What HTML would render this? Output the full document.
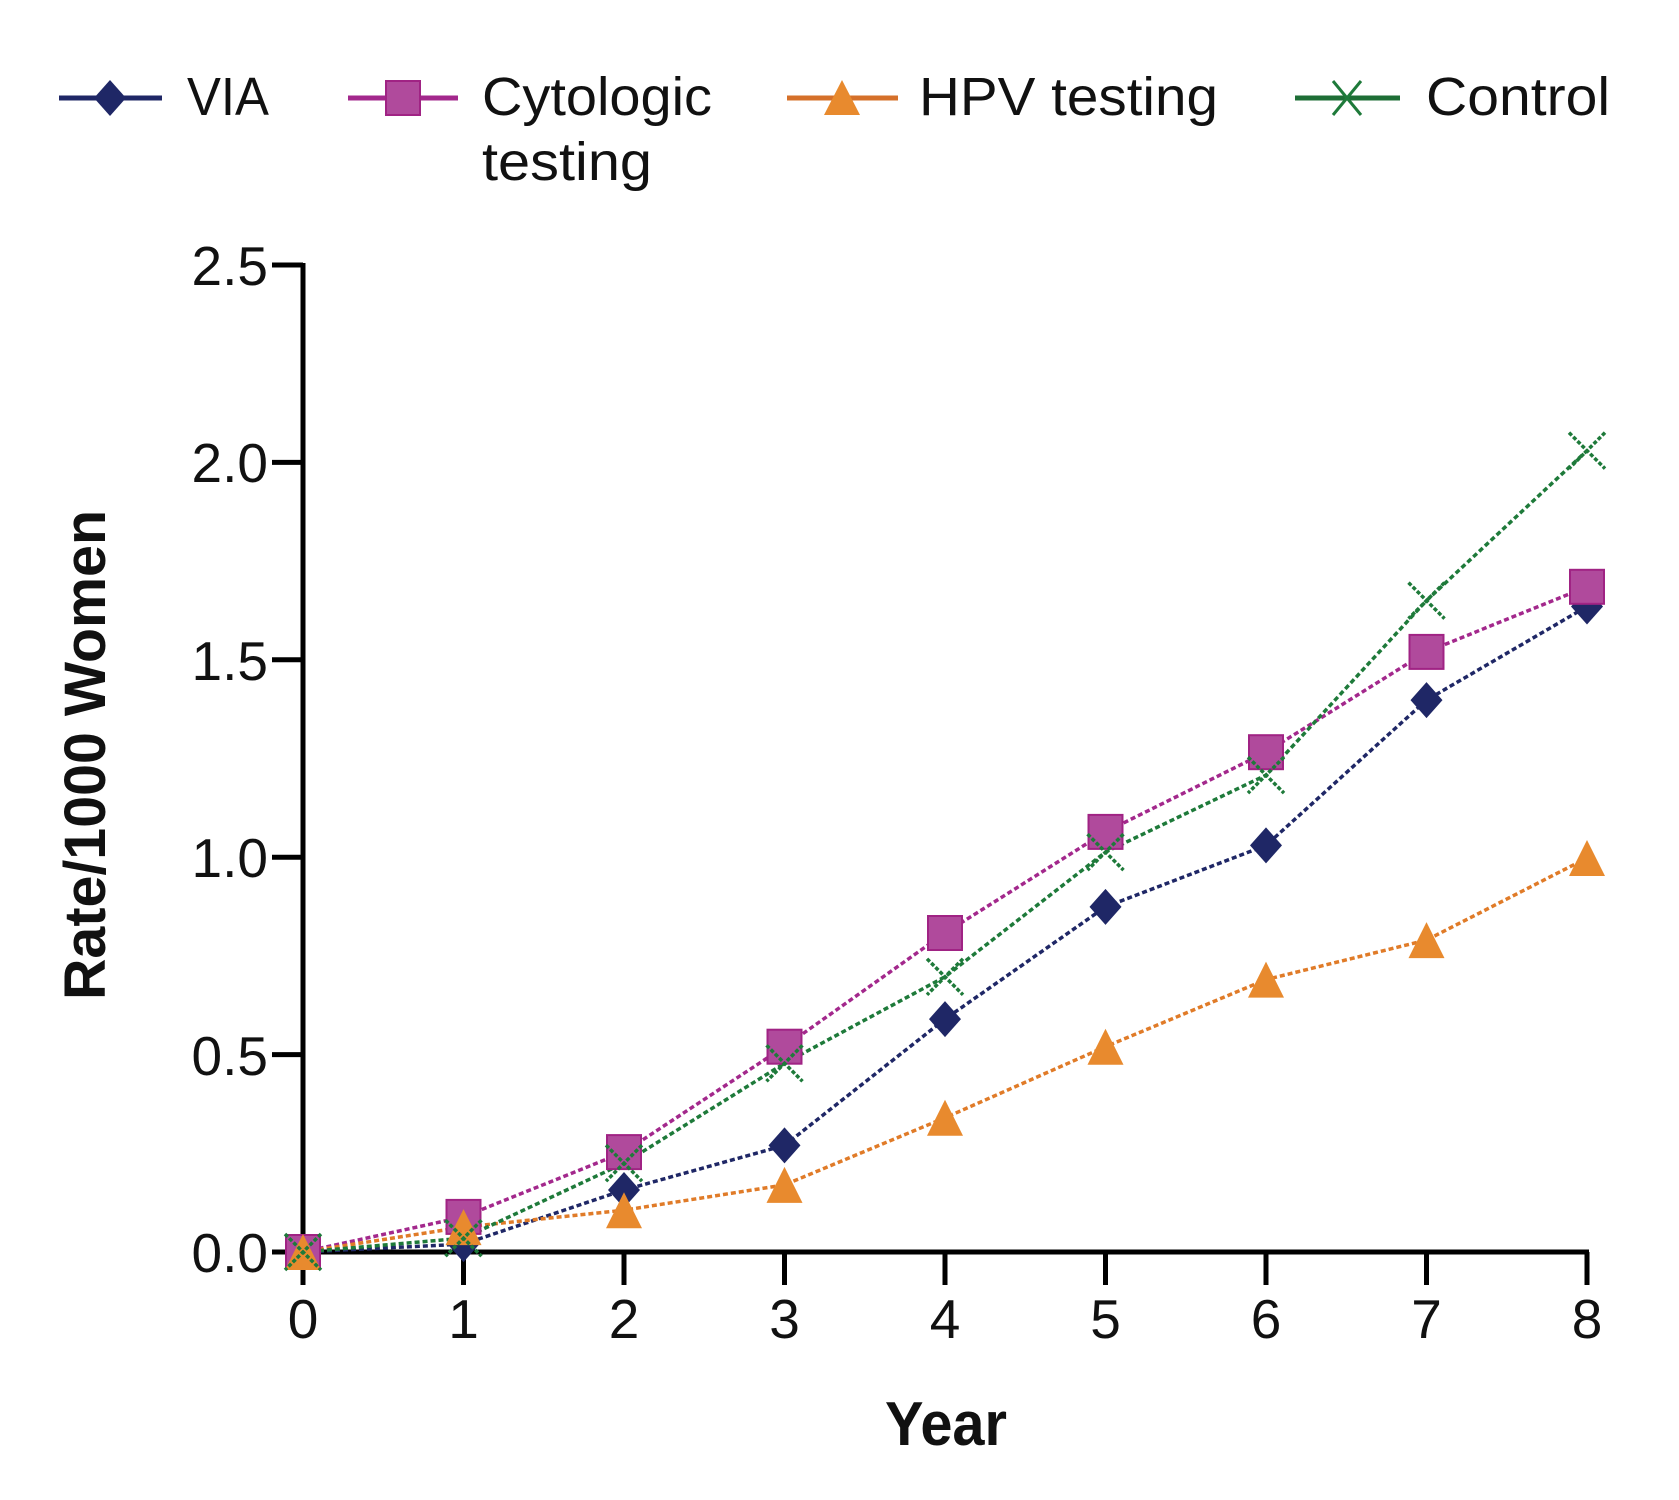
<!DOCTYPE html>
<html>
<head>
<meta charset="utf-8">
<style>
  html, body { margin:0; padding:0; background:#ffffff; }
  body { width:1679px; height:1500px; overflow:hidden; }
  svg { display:block; }
  text { font-family: "Liberation Sans", sans-serif; fill:#111; }
</style>
</head>
<body>
<svg width="1679" height="1500" viewBox="0 0 1679 1500" xmlns="http://www.w3.org/2000/svg">
  <rect width="1679" height="1500" fill="#ffffff"/>

  <!-- Legend -->
  <g>
    <line x1="59" y1="98" x2="162" y2="98" stroke="#1f2766" stroke-width="5"/>
    <polygon points="110,80 126,98 110,116 94,98" fill="#1f2766"/>
    <text x="187" y="115" font-size="54" textLength="82" lengthAdjust="spacingAndGlyphs">VIA</text>

    <line x1="348" y1="98" x2="458" y2="98" stroke="#a3288c" stroke-width="5"/>
    <rect x="386" y="81" width="34" height="34" fill="#b04a9c" stroke="#a02384" stroke-width="2"/>
    <text x="482" y="115" font-size="54" textLength="230" lengthAdjust="spacingAndGlyphs">Cytologic</text>
    <text x="482" y="180" font-size="54" textLength="170" lengthAdjust="spacingAndGlyphs">testing</text>

    <line x1="787" y1="98" x2="898" y2="98" stroke="#d5702a" stroke-width="5"/>
    <polygon points="842,80 860,115 824,115" fill="#e88a2e"/>
    <text x="919" y="115" font-size="54" textLength="299" lengthAdjust="spacingAndGlyphs">HPV testing</text>

    <line x1="1295" y1="98" x2="1400" y2="98" stroke="#1e6e36" stroke-width="5"/>
    <g stroke="#1e7a3a" stroke-width="3">
      <line x1="1333" y1="81" x2="1361" y2="115"/>
      <line x1="1361" y1="81" x2="1333" y2="115"/>
    </g>
    <text x="1426" y="115" font-size="54" textLength="184" lengthAdjust="spacingAndGlyphs">Control</text>
  </g>

  <!-- Axes -->
  <g stroke="#000" stroke-width="5" fill="none">
    <line x1="303" y1="263" x2="303" y2="1254"/>
    <line x1="301" y1="1252" x2="1589" y2="1252"/>
    <!-- y ticks -->
    <line x1="272" y1="265" x2="303" y2="265"/>
    <line x1="272" y1="462.4" x2="303" y2="462.4"/>
    <line x1="272" y1="659.8" x2="303" y2="659.8"/>
    <line x1="272" y1="857.2" x2="303" y2="857.2"/>
    <line x1="272" y1="1054.6" x2="303" y2="1054.6"/>
    <line x1="272" y1="1252" x2="303" y2="1252"/>
    <!-- x ticks -->
    <line x1="303" y1="1252" x2="303" y2="1285"/>
    <line x1="463.5" y1="1252" x2="463.5" y2="1285"/>
    <line x1="624" y1="1252" x2="624" y2="1285"/>
    <line x1="784.5" y1="1252" x2="784.5" y2="1285"/>
    <line x1="945" y1="1252" x2="945" y2="1285"/>
    <line x1="1105.5" y1="1252" x2="1105.5" y2="1285"/>
    <line x1="1266" y1="1252" x2="1266" y2="1285"/>
    <line x1="1426.5" y1="1252" x2="1426.5" y2="1285"/>
    <line x1="1587" y1="1252" x2="1587" y2="1285"/>
  </g>

  <!-- Y tick labels -->
  <g font-size="55" text-anchor="end">
    <text x="268" y="285">2.5</text>
    <text x="268" y="482">2.0</text>
    <text x="268" y="680">1.5</text>
    <text x="268" y="877">1.0</text>
    <text x="268" y="1075">0.5</text>
    <text x="268" y="1272">0.0</text>
  </g>

  <!-- X tick labels -->
  <g font-size="55" text-anchor="middle">
    <text x="303" y="1338">0</text>
    <text x="463.5" y="1338">1</text>
    <text x="624" y="1338">2</text>
    <text x="784.5" y="1338">3</text>
    <text x="945" y="1338">4</text>
    <text x="1105.5" y="1338">5</text>
    <text x="1266" y="1338">6</text>
    <text x="1426.5" y="1338">7</text>
    <text x="1587" y="1338">8</text>
  </g>

  <!-- Axis titles -->
  <text x="885" y="1445" font-size="62" font-weight="bold" textLength="122" lengthAdjust="spacingAndGlyphs">Year</text>
  <text transform="translate(105,1000) rotate(-90)" x="0" y="0" font-size="58" font-weight="bold" textLength="490" lengthAdjust="spacingAndGlyphs">Rate/1000 Women</text>

  <!-- Series lines -->
  <g fill="none" stroke-width="3.5" stroke-dasharray="5 3">
    <polyline stroke="#1f2766" points="303,1252 463.5,1244.1 624,1190 784.5,1145.4 945,1019.1 1105.5,906.9 1266,845.4 1426.5,700.1 1587,606.5"/>
    <polyline stroke="#a3288c" points="303,1252 463.5,1216.9 624,1152.1 784.5,1046.7 945,933 1105.5,831.9 1266,752.2 1426.5,651.9 1587,586.8"/>
    <polyline stroke="#e07b28" points="303,1252 463.5,1227.1 624,1210.2 784.5,1184.9 945,1117.8 1105.5,1046.7 1266,979.6 1426.5,940.1 1587,858"/>
    <polyline stroke="#1e7a3a" points="303,1252 463.5,1238.2 624,1163.2 784.5,1063.3 945,976.8 1105.5,852.1 1266,775.1 1426.5,600.6 1587,450.6"/>
  </g>

  <!-- VIA diamonds -->
  <g fill="#1f2766">
    <polygon points="303,1234 319,1252 303,1270 287,1252"/>
    <polygon points="463.5,1226.1 479.5,1244.1 463.5,1262.1 447.5,1244.1"/>
    <polygon points="624,1172 640,1190 624,1208 608,1190"/>
    <polygon points="784.5,1127.4 800.5,1145.4 784.5,1163.4 768.5,1145.4"/>
    <polygon points="945,1001.1 961,1019.1 945,1037.1 929,1019.1"/>
    <polygon points="1105.5,888.9 1121.5,906.9 1105.5,924.9 1089.5,906.9"/>
    <polygon points="1266,827.4 1282,845.4 1266,863.4 1250,845.4"/>
    <polygon points="1426.5,682.1 1442.5,700.1 1426.5,718.1 1410.5,700.1"/>
    <polygon points="1587,588.5 1603,606.5 1587,624.5 1571,606.5"/>
  </g>

  <!-- Cytologic squares -->
  <g fill="#b04a9c" stroke="#a02384" stroke-width="2">
    <rect x="286" y="1235" width="34" height="34"/>
    <rect x="446.5" y="1199.9" width="34" height="34"/>
    <rect x="607" y="1135.1" width="34" height="34"/>
    <rect x="767.5" y="1029.7" width="34" height="34"/>
    <rect x="928" y="916" width="34" height="34"/>
    <rect x="1088.5" y="814.9" width="34" height="34"/>
    <rect x="1249" y="735.2" width="34" height="34"/>
    <rect x="1409.5" y="634.9" width="34" height="34"/>
    <rect x="1570" y="569.8" width="34" height="34"/>
  </g>

  <!-- HPV triangles -->
  <g fill="#e88a2e">
    <polygon points="303,1234 321,1270 285,1270"/>
    <polygon points="463.5,1209.1 481.5,1245.1 445.5,1245.1"/>
    <polygon points="624,1192.2 642,1228.2 606,1228.2"/>
    <polygon points="784.5,1166.9 802.5,1202.9 766.5,1202.9"/>
    <polygon points="945,1099.8 963,1135.8 927,1135.8"/>
    <polygon points="1105.5,1028.7 1123.5,1064.7 1087.5,1064.7"/>
    <polygon points="1266,961.6 1284,997.6 1248,997.6"/>
    <polygon points="1426.5,922.1 1444.5,958.1 1408.5,958.1"/>
    <polygon points="1587,840 1605,876 1569,876"/>
  </g>

  <!-- Control X markers -->
  <g stroke="#1e7a3a" stroke-width="3.5" stroke-dasharray="4 2">
    <path d="M285,1234 L321,1270 M321,1234 L285,1270"/>
    <path d="M445.5,1220.2 L481.5,1256.2 M481.5,1220.2 L445.5,1256.2"/>
    <path d="M606,1145.2 L642,1181.2 M642,1145.2 L606,1181.2"/>
    <path d="M766.5,1045.3 L802.5,1081.3 M802.5,1045.3 L766.5,1081.3"/>
    <path d="M927,958.8 L963,994.8 M963,958.8 L927,994.8"/>
    <path d="M1087.5,834.1 L1123.5,870.1 M1123.5,834.1 L1087.5,870.1"/>
    <path d="M1248,757.1 L1284,793.1 M1284,757.1 L1248,793.1"/>
    <path d="M1408.5,582.6 L1444.5,618.6 M1444.5,582.6 L1408.5,618.6"/>
    <path d="M1569,432.6 L1605,468.6 M1605,432.6 L1569,468.6"/>
  </g>
</svg>
</body>
</html>
